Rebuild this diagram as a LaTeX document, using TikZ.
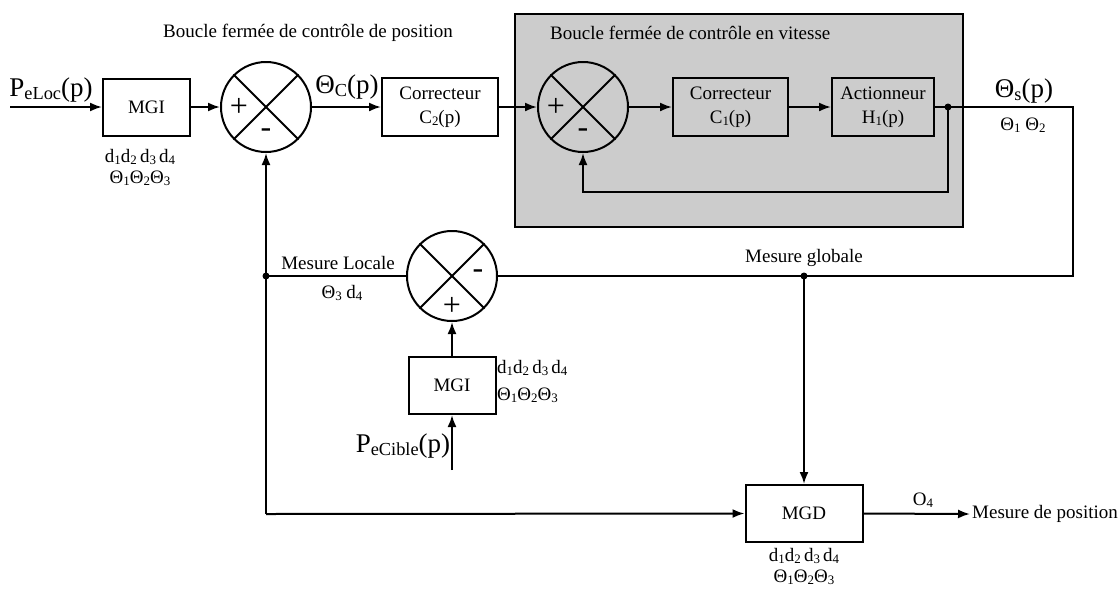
\documentclass[tikz,border=0pt]{standalone}
\usepackage{fontspec}
\setmainfont{Liberation Serif}
\usetikzlibrary{arrows.meta,calc}
\newcommand{\sbs}[1]{\raisebox{-0.25ex}{\scalebox{0.68}{#1}}}
\newcommand{\dlist}{d\sbs{1}d\sbs{2}\,d\sbs{3}\,d\sbs{4}}
\newcommand{\tlist}{Θ\sbs{1}Θ\sbs{2}Θ\sbs{3}}
\tikzset{
  blk/.style={draw, line width=2pt, inner sep=0pt, align=center, font=\fontsize{19}{24}\selectfont},
  sumc/.style={draw, circle, line width=2pt, minimum size=90pt, inner sep=0pt},
  arr/.style={line width=2pt, -{Latex[length=12pt,width=9pt]}},
  ln/.style={line width=2pt},
  lbl/.style={inner sep=0pt, font=\fontsize{19}{24}\selectfont},
  big/.style={inner sep=0pt, font=\fontsize{27}{30}\selectfont},
  sgn/.style={inner sep=0pt, font=\fontsize{32}{34}\selectfont},
}
\begin{document}
\begin{tikzpicture}[x=1pt,y=-1pt]
\useasboundingbox (0,0) rectangle (1119,590);
% gray box
\draw[fill=black!20, line width=2pt] (515,14) rectangle (963,227);
\node[lbl, anchor=west] (t2) at (550,33) {Boucle fermée de contrôle en vitesse};
\node[lbl] (t1) at (308,33) {Boucle fermée de contrôle de position};

% blocks
\node[blk, minimum width=87pt, minimum height=57pt] (mgi1) at (146.5,107) {MGI};
\node[blk, minimum width=116pt, minimum height=58pt] (c2) at (440,107) {Correcteur\\C\sbs{2}(p)};
\node[blk, minimum width=115pt, minimum height=58pt] (c1) at (730.5,107) {Correcteur\\C\sbs{1}(p)};
\node[blk, minimum width=102pt, minimum height=58pt] (h1) at (883,107) {Actionneur\\H\sbs{1}(p)};
\node[blk, minimum width=87pt, minimum height=57pt] (mgi2) at (452,385.5) {MGI};
\node[blk, minimum width=117pt, minimum height=57pt] (mgd) at (804,513.5) {MGD};

% summators
\node[sumc] (s1) at (266,107) {};
\node[sumc] (s2) at (583,107) {};
\node[sumc] (s3) at (452,276) {};
\foreach \s in {s1,s2,s3}{
  \draw[ln] (\s.45) -- (\s.225);
  \draw[ln] (\s.135) -- (\s.315);
}
\node[sgn] (p1) at ($(s1)+(-27,0)$) {+};
\node[sgn] (m1) at ($(s1)+(0,26)$) {-};
\node[sgn] (p2) at ($(s2)+(-27,0)$) {+};
\node[sgn] (m2) at ($(s2)+(0,26)$) {-};
\node[sgn] (m3) at ($(s3)+(26,-2)$) {-};
\node[sgn] (p3) at ($(s3)+(0,30)$) {+};

% coordinates
\coordinate (in1) at (10,107);
\coordinate (dotH) at (948,107);
\coordinate (outc) at (1073,107);
\coordinate (outd) at (1073,276);
\coordinate (dotG) at (804,276);
\coordinate (fb) at (948,192);
\coordinate (dotL) at (266,276);
\coordinate (bl) at (266,514);
\coordinate (in2) at (452,470);
\coordinate (outp) at (970,514);

% connectors
\draw[arr] (in1) -- (mgi1.west);
\draw[arr] (mgi1.east) -- (s1.west);
\draw[arr] (s1.east) -- (c2.west);
\draw[arr] (c2.east) -- (s2.west);
\draw[arr] (s2.east) -- (c1.west);
\draw[arr] (c1.east) -- (h1.west);
\draw[ln] (h1.east) -- (outc) -- (outd) -- (s3.east);
\draw[arr] (dotH) -- (fb) -| (s2.south);
\draw[arr] (bl) -- (s1.south);
\draw[ln] (dotL) -- (s3.west);
\draw[arr] (bl) -- (mgd.west);
\draw[arr] (dotG) -- (mgd.north);
\draw[arr] (mgi2.north) -- (s3.south);
\draw[arr] (in2) -- (mgi2.south);
\draw[arr] (mgd.east) -- (outp);
\fill (dotH) circle (3.5pt);
\fill (dotG) circle (3.5pt);
\fill (dotL) circle (3.5pt);

% labels
\node[big] (lpe) at (51,90) {P\sbs{eLoc}(p)};
\node[big] (lthc) at (347,87) {Θ\sbs{C}(p)};
\node[big] (lths) at (1024,91) {Θ\sbs{s}(p)};
\node[lbl] (lt12) at (1023,125) {Θ\sbs{1} Θ\sbs{2}};
\node[big] (lpc) at (403,446) {P\sbs{eCible}(p)};
\node[lbl] (ld1) at (140,157) {\dlist};
\node[lbl] (lq1) at (140,178) {\tlist};
\node[lbl, anchor=west] (ld2) at (497,368) {\dlist};
\node[lbl, anchor=west] (lq2) at (497,395) {\tlist};
\node[lbl] (ld3) at (804,556) {\dlist};
\node[lbl] (lq3) at (804,577) {\tlist};
\node[lbl] (lml) at (338,263) {Mesure Locale};
\node[lbl] (lt3) at (342,293) {Θ\sbs{3} d\sbs{4}};
\node[lbl] (lmg) at (804,258) {Mesure globale};
\node[lbl] (lo4) at (923,500) {O\sbs{4}};
\node[lbl, anchor=west] (lmp) at (972,514) {Mesure de position};
\end{tikzpicture}
\end{document}
